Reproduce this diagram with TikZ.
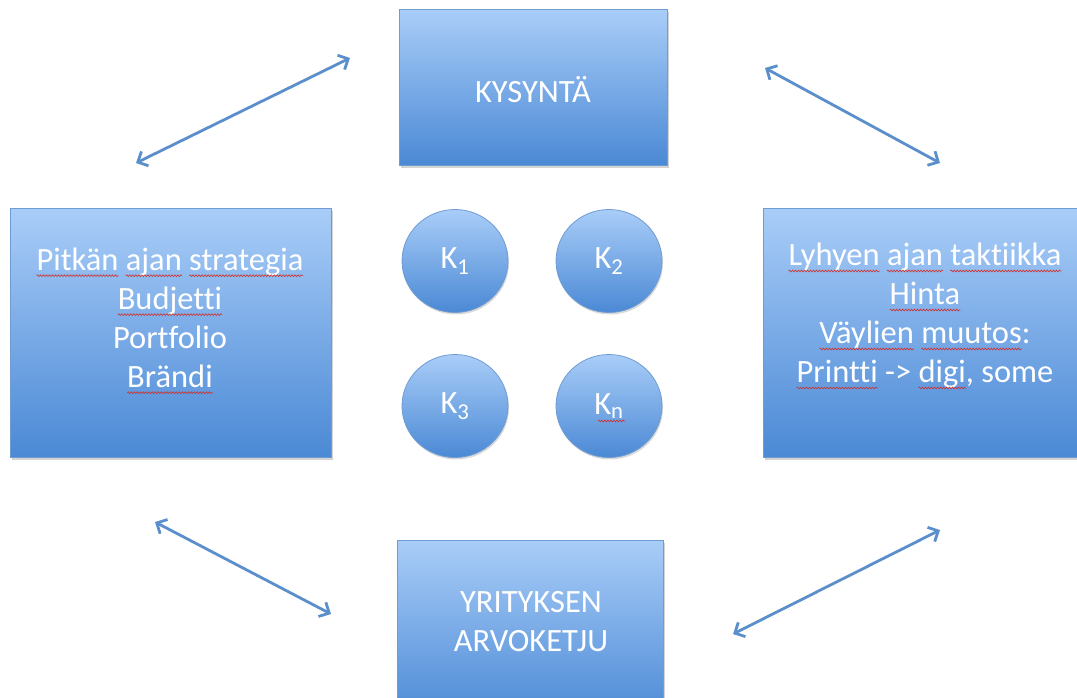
\documentclass[tikz,border=0pt]{standalone}
\usepackage{fontspec}
\setmainfont{Carlito}[Ligatures=NoCommon]
\usetikzlibrary{arrows.meta,shapes.geometric,shadows,decorations.pathmorphing}
\definecolor{boxtop}{HTML}{A9CDF8}
\definecolor{boxbot}{HTML}{4B89D5}
\definecolor{boxline}{HTML}{6F9CD2}
\definecolor{arrowblue}{HTML}{5A8FCC}
\definecolor{spellred}{HTML}{D0302A}
\tikzset{
  squiggle/.style={spellred, line width=0.6pt, decorate,
    decoration={snake, amplitude=0.9pt, segment length=3pt}},
  panel/.style={rectangle, draw=boxline, line width=0.8pt,
    top color=boxtop, bottom color=boxbot,
    drop shadow={opacity=0.35, shadow xshift=1.5pt, shadow yshift=-2.5pt}},
  roundel/.style={ellipse, draw=boxline, line width=0.8pt,
    top color=boxtop, bottom color=boxbot,
    minimum width=106pt, minimum height=103pt, inner sep=0pt,
    drop shadow={opacity=0.3, shadow xshift=1pt, shadow yshift=-2pt}},
  label/.style={text=white, align=center, font=\fontsize{32.5}{39}\selectfont},
  link/.style={draw=arrowblue, line width=2.8pt,
    {Straight Barb[length=8pt,width=16pt]}-{Straight Barb[length=8pt,width=16pt]}}
}
% red wavy spell-check underline under a word
\newcommand\wavy[1]{\tikz[baseline=(w.base)]{%
  \node[rectangle, inner sep=0pt, outer sep=0pt] (w) {#1};
  \draw[overlay, squiggle]
    ([yshift=-5pt]w.base west) -- ([yshift=-5pt]w.base east);}}
\begin{document}
\begin{tikzpicture}[x=1pt,y=-1pt]
\useasboundingbox (0,0) rectangle (1077,697);
\clip (0,0) rectangle (1077,697);

% boxes
\node[panel, minimum width=268pt, minimum height=156pt] (demand) at (533,87) {};
\node[label] at (533,90) {KYSYNTÄ};

\node[panel, minimum width=321pt, minimum height=249pt] (strategy) at (170.5,332.5) {};
\node[label] (strategytext) at (170,318) {\wavy{Pitkän} \wavy{ajan} \wavy{strategia}\\ \wavy{Budjetti}\\ Portfolio\\ \wavy{Brändi}};

\node[panel, minimum width=321pt, minimum height=249pt] (tactics) at (923.5,332.5) {};
\node[label] (tacticstext) at (925,316) {\wavy{Lyhyen} \wavy{ajan} \wavy{taktiikka}\\ \wavy{Hinta}\\ \wavy{Väylien} \wavy{muutos}:\\ \wavy{Printti} -> \wavy{digi}, some};

\node[panel, minimum width=266pt, minimum height=180pt] (chain) at (530,630) {};
\node[label] at (531,622) {YRITYKSEN\\ARVOKETJU};

% competitors
\node[roundel, label] (k1) at (455,261) {K\textsubscript{1}};
\node[roundel, label] (k2) at (609,261) {K\textsubscript{2}};
\node[roundel, label] (k3) at (455,406) {K\textsubscript{3}};
\node[roundel, label] (kn) at (609,406) {K\textsubscript{n}};
\draw[squiggle] ([xshift=-11pt,yshift=-15pt]kn.center) -- ([xshift=16pt,yshift=-15pt]kn.center);

% double-headed links between the boxes
\coordinate (tl1) at (136,163);
\coordinate (tl2) at (350,58);
\coordinate (tr1) at (765,68);
\coordinate (tr2) at (940,163);
\coordinate (bl1) at (155,522);
\coordinate (bl2) at (331,614);
\coordinate (br1) at (940,530);
\coordinate (br2) at (733,634);
\draw[link] (tl1) -- (tl2);
\draw[link] (tr1) -- (tr2);
\draw[link] (bl1) -- (bl2);
\draw[link] (br1) -- (br2);
\end{tikzpicture}
\end{document}
